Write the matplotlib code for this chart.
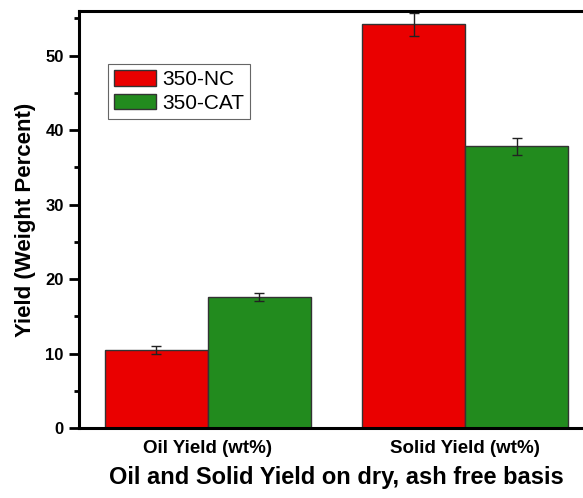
import numpy as np
import matplotlib
matplotlib.use('Agg')
import matplotlib.pyplot as plt
from matplotlib.ticker import MultipleLocator

plt.rcParams['font.family'] = ['Liberation Sans', 'DejaVu Sans']

categories = ['Oil Yield (wt%)', 'Solid Yield (wt%)']
series_names = ['350-NC', '350-CAT']
nc_vals = [10.5, 54.2]
nc_err = [0.5, 1.5]
cat_vals = [17.6, 37.8]
cat_err = [0.5, 1.2]

fig = plt.figure(figsize=(5.83, 4.98), dpi=100)
ax = fig.add_axes([0.1355, 0.1406, 0.8835, 0.8374])

x = np.arange(len(categories))
w = 0.4
err_kw = dict(ecolor='#222222', elinewidth=1.0, capsize=3.5, capthick=1.0)
ax.bar(x - w / 2, nc_vals, w, yerr=nc_err, color='#ea0000', edgecolor='#333333',
       linewidth=1.0, label=series_names[0], error_kw=err_kw)
ax.bar(x + w / 2, cat_vals, w, yerr=cat_err, color='#228b1e', edgecolor='#333333',
       linewidth=1.0, label=series_names[1], error_kw=err_kw)

ax.set_xlim(-0.5, 1.5)
ax.set_ylim(0, 56)
ax.set_xticks(x)
ax.set_xticklabels(categories, fontsize=13.5, fontweight='bold')
ax.yaxis.set_major_locator(MultipleLocator(10))
ax.yaxis.set_minor_locator(MultipleLocator(5))
ax.tick_params(axis='y', which='major', direction='out', length=7, width=2,
               labelsize=12, pad=4)
ax.tick_params(axis='y', which='minor', direction='out', length=3.5, width=2)
ax.tick_params(axis='x', length=0, pad=9)
for lab in ax.get_yticklabels():
    lab.set_fontweight('bold')
for s in ax.spines.values():
    s.set_linewidth(2.2)

ax.set_ylabel('Yield (Weight Percent)', fontsize=16, fontweight='bold', labelpad=7)
ax.set_xlabel('Oil and Solid Yield on dry, ash free basis', fontsize=17,
              fontweight='bold', labelpad=6)

leg = ax.legend(loc='upper left', bbox_to_anchor=(0.056, 0.873), borderaxespad=0,
                fontsize=15, fancybox=False, framealpha=1, edgecolor='#666666',
                handlelength=2.0, handleheight=0.8, handletextpad=0.3,
                labelspacing=0.2, borderpad=0.3)
leg.get_frame().set_linewidth(0.8)

fig.savefig('out.png', dpi=100)
